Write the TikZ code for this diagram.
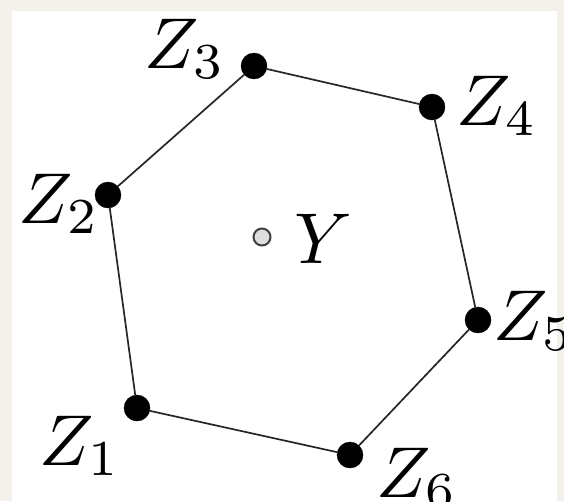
\documentclass[tikz,border=0pt]{standalone}
\usepackage{graphicx}
\definecolor{bgbeige}{HTML}{F4F1EC}
\definecolor{ygray}{HTML}{DDDDDD}
\newcommand{\biglab}[1]{\scalebox{7.2}{$#1$}}
\tikzset{
  vtx/.style={circle,fill=black,draw=black,minimum size=26pt,inner sep=0pt},
  ctr/.style={circle,fill=ygray,draw=black!75,line width=2pt,minimum size=17pt,inner sep=0pt},
  lbl/.style={anchor=base west,inner sep=0pt},
  edge/.style={line width=1.7pt,draw=black!85}
}
\begin{document}
\begin{tikzpicture}[x=1pt,y=-1pt]
\useasboundingbox (0,0) rectangle (564,501);
\fill[bgbeige] (0,0) rectangle (564,501);
\fill[white] (12,11) rectangle (557,501);
\node[vtx] (z1) at (137,408) {};
\node[vtx] (z2) at (108,195) {};
\node[vtx] (z3) at (254,66) {};
\node[vtx] (z4) at (432,107) {};
\node[vtx] (z5) at (478,320) {};
\node[vtx] (z6) at (350,455) {};
\node[ctr] (y) at (262,237) {};
\draw[edge] (z1) -- (z2) -- (z3) -- (z4) -- (z5) -- (z6) -- (z1);
\node[lbl] (l3) at (144,68) {\biglab{Z_3}};
\node[lbl] (l4) at (456,125) {\biglab{Z_4}};
\node[lbl] (l2) at (18,223) {\biglab{Z_2}};
\node[lbl] (ly) at (294,263) {\biglab{Y}};
\node[lbl] (l5) at (493,340) {\biglab{Z_5}};
\node[lbl] (l1) at (39,465) {\biglab{Z_1}};
\node[lbl] (l6) at (376,497) {\biglab{Z_6}};
\end{tikzpicture}
\end{document}
